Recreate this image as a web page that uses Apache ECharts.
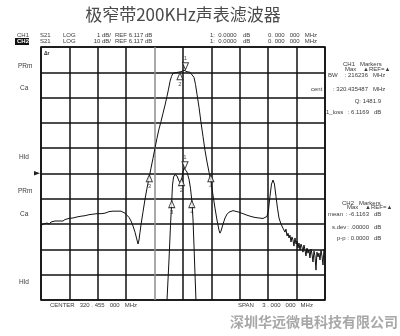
<!DOCTYPE html>
<html><head><meta charset="utf-8">
<script src="https://cdn.jsdelivr.net/npm/echarts/dist/echarts.min.js"></script>
<style>html,body{margin:0;padding:0;background:#fff}#c{width:400px;height:336px}</style>
</head><body><div id="c"></div>
<script>
// ---- data (MHz, dB) ----
const startMHz = 318.955, stopMHz = 321.955;
const ch1Bottom = -11.33, ch1PerDiv = 1;
const ch2Bottom = -96.12, ch2PerDiv = 10;
const ch2Freq = [318.955,318.976,318.997,319.018,319.040,319.061,319.082,319.103,319.124,319.145,319.166,319.187,319.209,319.230,319.251,319.272,319.293,319.314,319.335,319.356,319.378,319.399,319.420,319.441,319.462,319.483,319.504,319.525,319.547,319.568,319.589,319.610,319.631,319.652,319.673,319.694,319.716,319.737,319.758,319.779,319.800,319.821,319.842,319.863,319.885,319.906,319.927,319.948,319.969,319.980,319.990,320.001,320.011,320.032,320.054,320.075,320.096,320.117,320.138,320.159,320.180,320.201,320.223,320.244,320.265,320.286,320.302,320.318,320.334,320.349,320.370,320.402,320.434,320.466,320.497,320.529,320.550,320.571,320.587,320.603,320.624,320.645,320.666,320.687,320.709,320.730,320.751,320.772,320.793,320.814,320.835,320.846,320.856,320.878,320.899,320.920,320.941,320.962,320.983,321.004,321.025,321.047,321.068,321.089,321.110,321.131,321.152,321.173,321.194,321.216,321.237,321.258,321.279,321.300,321.321,321.342,321.358,321.374,321.390,321.406,321.421,321.437,321.453,321.469,321.490,321.511,321.532,321.543,321.554,321.564,321.575,321.585,321.596,321.606,321.617,321.627,321.638,321.649,321.659,321.670,321.680,321.691,321.701,321.712,321.722,321.733,321.744,321.754,321.765,321.775,321.786,321.796,321.807,321.818,321.828,321.839,321.849,321.860,321.870,321.881,321.891,321.902,321.913,321.923,321.934,321.944,321.955];
const ch2Db = [-66.9,-66.1,-66.5,-65.7,-66.1,-65.3,-65.7,-64.9,-65.5,-64.9,-64.5,-64.9,-64.3,-64.5,-63.9,-64.1,-63.7,-63.9,-63.3,-63.5,-63.0,-63.1,-62.8,-63.0,-62.4,-62.6,-62.2,-62.4,-62.0,-61.8,-62.0,-61.6,-61.8,-61.4,-61.2,-61.4,-61.0,-60.8,-61.0,-60.8,-61.0,-61.2,-61.8,-62.6,-63.5,-64.9,-66.9,-69.3,-72.4,-74.0,-72.4,-69.3,-66.5,-61.4,-56.2,-51.9,-48.0,-44.0,-40.1,-36.1,-32.2,-28.6,-25.5,-22.3,-19.1,-15.6,-12.8,-9.7,-7.7,-6.5,-6.1,-6.1,-5.9,-5.3,-5.9,-6.1,-6.5,-8.1,-10.9,-14.8,-19.9,-25.9,-31.4,-36.9,-41.6,-45.6,-49.5,-54.7,-59.8,-64.5,-68.5,-69.7,-68.9,-66.1,-63.7,-62.2,-61.4,-61.0,-60.8,-61.0,-61.2,-61.4,-61.8,-62.0,-62.4,-62.6,-62.8,-63.1,-63.0,-63.5,-63.3,-63.7,-63.5,-63.9,-63.5,-63.1,-60.6,-55.1,-50.3,-48.7,-50.3,-55.1,-59.8,-63.7,-66.1,-67.7,-69.3,-68.1,-70.8,-69.7,-71.6,-70.5,-73.2,-71.2,-72.4,-74.8,-71.6,-74.0,-72.8,-75.6,-73.6,-76.4,-74.0,-75.2,-77.2,-74.4,-76.4,-78.7,-75.6,-77.6,-76.4,-79.5,-76.0,-78.0,-81.1,-76.8,-78.7,-84.3,-77.2,-79.1,-77.6,-80.3,-76.4,-78.7,-82.3,-76.0,-77.2];
const ch1Freq = [320.254,320.286,320.307,320.323,320.334,320.344,320.355,320.370,320.392,320.413,320.429,320.444,320.455,320.466,320.481,320.497,320.518,320.534,320.550,320.561,320.571,320.582,320.592,320.608];
const ch1Db = [-12.51,-11.33,-9.75,-8.37,-7.58,-6.79,-6.47,-6.37,-6.43,-6.63,-6.71,-6.51,-6.24,-6.12,-6.16,-6.27,-6.55,-6.91,-7.46,-8.17,-9.16,-10.34,-11.33,-12.51];
const ch1MarkerFreq = [320.476, 320.439, 320.336, 320.548];
const ch1MarkerDb = [-6.12, -6.67, -7.54, -7.54];
const ch2MarkerFreq = [320.481, 320.423, 320.099, 320.749];
const ch2MarkerDb = [-5.33, -6.12, -48.0, -48.0];
const markerNames = ['1','2','3','4'];
const titleText = '极窄带200KHz声表滤波器';
const companyText = '深圳华远微电科技有限公司';

// ---- chart ----
const chart = echarts.init(document.getElementById('c'), null, {renderer:'canvas'});
const sf = '"Liberation Sans", Arial, sans-serif';
function t(text, x, y, size, fill, align, weight) {
  return {type:'text', x:x, y:y, z:10, silent:true, style:{text:text, fill:fill||'#3a3a3a',
    font:(weight||'normal')+' '+(size||6)+'px '+sf, align:align||'left', verticalAlign:'middle'}};
}
const xColors = [];
for (let i = 0; i <= 10; i++) xColors.push(i === 4 ? '#8c8c8c' : '#111');

function markerItems(fr, db, ch2) {
  return fr.map((f, i) => {
    let rot = 0, off = [0, 0], pos = 'bottom';
    if (i === 0) { rot = 180; off = [0, ch2 ? -4 : -3]; pos = 'top'; }
    else if (i === 1 && ch2) { off = [0, 4]; }
    return {value:[f, db[i]], name:markerNames[i], symbolRotate:rot, symbolOffset:off,
      label:{position:pos}};
  });
}
const markerStyle = {
  type:'scatter', symbol:'triangle', symbolSize:[6,7], xAxisIndex:1,
  itemStyle:{color:'#fff', borderColor:'#111', borderWidth:1},
  label:{show:true, formatter:p=>p.name, fontSize:6, color:'#222', distance:1, fontFamily:sf},
  z:5, silent:true
};

chart.setOption({
  animation:false,
  backgroundColor:'#fff',
  grid:{left:41, right:75, top:47, bottom:36, show:true, borderColor:'#111', borderWidth:1.6, backgroundColor:'transparent'},
  xAxis:[
    {type:'value', min:0, max:10, interval:1, axisLine:{show:false}, axisTick:{show:false}, axisLabel:{show:false},
     splitLine:{show:true, lineStyle:{color:xColors, width:1.5}}},
    {type:'value', min:startMHz, max:stopMHz, show:false, splitLine:{show:false}}
  ],
  yAxis:[
    {type:'value', min:0, max:10, interval:1, axisLine:{show:false}, axisTick:{show:false}, axisLabel:{show:false},
     splitLine:{show:true, lineStyle:{color:'#111', width:1.5}}},
    {type:'value', min:ch2Bottom, max:ch2Bottom + 10*ch2PerDiv, show:false, splitLine:{show:false}},
    {type:'value', min:ch1Bottom, max:ch1Bottom + 10*ch1PerDiv, show:false, splitLine:{show:false}}
  ],
  series:[
    {type:'line', name:'CH2', xAxisIndex:1, yAxisIndex:1, showSymbol:false, symbol:'none', clip:true,
     lineStyle:{color:'#111', width:1}, data:ch2Freq.map((f,i)=>[f, ch2Db[i]]), z:3},
    {type:'line', name:'CH1', xAxisIndex:1, yAxisIndex:2, showSymbol:false, symbol:'none', clip:true,
     lineStyle:{color:'#111', width:1}, data:ch1Freq.map((f,i)=>[f, ch1Db[i]]), z:3},
    Object.assign({}, markerStyle, {yAxisIndex:1, data:markerItems(ch2MarkerFreq, ch2MarkerDb, true)}),
    Object.assign({}, markerStyle, {yAxisIndex:2, data:markerItems(ch1MarkerFreq, ch1MarkerDb, false)})
  ],
  graphic:[
    {type:'text', x:183, y:15, silent:true, style:{text:titleText, fill:'#4a4a4a',
      font:'normal 17px "Noto Sans CJK SC", sans-serif', align:'center', verticalAlign:'middle'}},
    // header row 1
    t('CH1', 17, 35), t('S21', 40, 35), t('LOG', 63, 35), t('1 dB/', 111, 35, 6, null, 'right'),
    t('REF 6.117 dB', 115, 35), t('1:  0.0000', 210, 35), t('dB', 243, 35), t('0. 000   000   MHz', 268, 35),
    // header row 2
    {type:'rect', shape:{x:15, y:38, width:14, height:7}, style:{fill:'#111'}, silent:true},
    t('CH2', 17, 41.5, 6, '#fff', 'left', 'bold'), t('S21', 40, 41), t('LOG', 63, 41), t('10 dB/', 111, 41, 6, null, 'right'),
    t('REF 6.117 dB', 115, 41), t('1:  0.0000', 210, 41), t('dB', 243, 41), t('0. 000   000   MHz', 268, 41),
    // left annotations
    t('PRm', 18, 66, 6.5), t('Ca', 20, 88, 6.5), t('Hld', 19, 157, 6.5),
    t('PRm', 18, 191, 6.5), t('Ca', 20, 214, 6.5), t('Hld', 19, 282, 6.5),
    {type:'polygon', shape:{points:[[34,171],[34,175.5],[40,173.3]]}, style:{fill:'#222'}, silent:true},
    t('Δr', 44, 54, 5, '#222', 'left', 'bold'),
    // CH1 marker panel
    t('CH1   Markers', 343, 64), t('Max    ▲REF=▲', 345, 69),
    t('BW', 328, 75), t(': 216236', 368, 75, 6, null, 'right'), t('MHz', 373, 75),
    t('cent', 311, 89), t(': 320.435487', 368, 89, 6, null, 'right'), t('MHz', 373, 89),
    t('Q: 1481.9', 381, 101, 6, null, 'right'),
    t('1_loss', 326, 112), t(': 6.1169', 369, 112, 6, null, 'right'), t('dB', 374, 112),
    // CH2 marker panel
    t('CH2   Markers', 342, 203), t('Max    ▲REF=▲', 347, 207.5),
    t('mean', 328, 214), t(': -6.1163', 369, 214, 6, null, 'right'), t('dB', 374, 214),
    t('s.dev', 332, 227), t(': .00000', 369, 227, 6, null, 'right'), t('dB', 374, 227),
    t('p-p', 337, 238), t(': 0.0000', 369, 238, 6, null, 'right'), t('dB', 374, 238),
    // bottom
    t('CENTER   320 . 455   000   MHz', 50, 305),
    t('SPAN     3 . 000   000   MHz', 238, 305),
    {type:'text', x:230, y:322, silent:true, style:{text:companyText, fill:'#a8a8a8',
      font:'bold 14px "Noto Sans CJK SC", sans-serif', align:'left', verticalAlign:'middle'}}
  ]
});
</script>
</body></html>
